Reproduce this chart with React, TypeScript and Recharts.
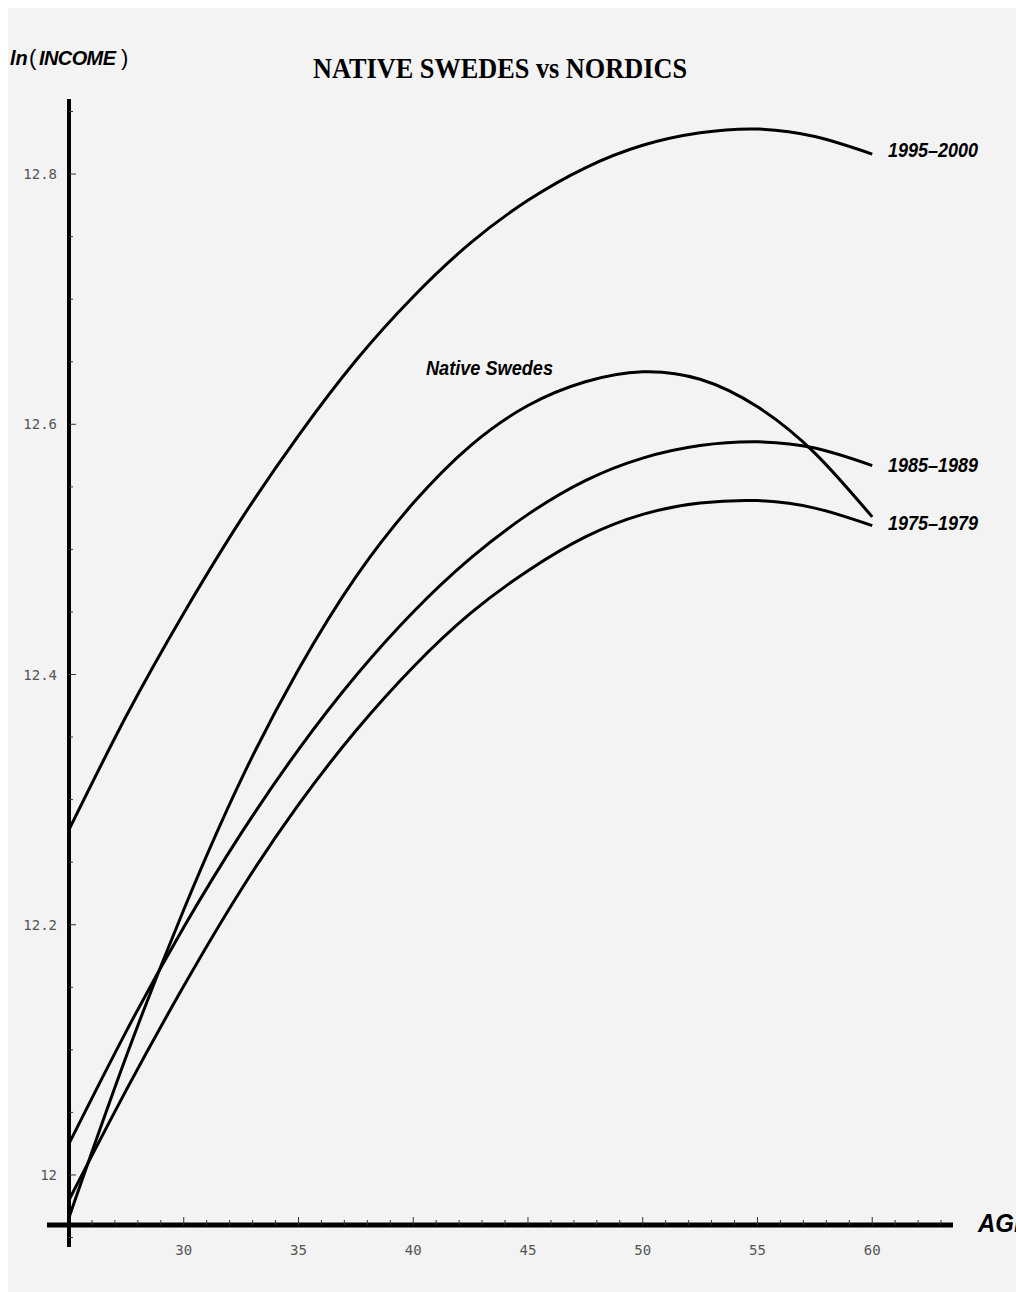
import React from 'react';
import { LineChart, Line, XAxis, YAxis, ReferenceLine } from 'recharts';

// age grid the curves were read at
const ages = [25, 27.5, 30, 32.5, 35, 37.5, 40, 42.5, 45, 47.5, 50, 52.5, 55, 57.5, 60];

// ln(income) per cohort
const nordics1995 = [12.276, 12.367, 12.449, 12.524, 12.591, 12.651, 12.702, 12.745, 12.779, 12.805, 12.823, 12.833, 12.836, 12.830, 12.816];
const nativeSwedes = [11.966, 12.095, 12.212, 12.316, 12.404, 12.478, 12.537, 12.583, 12.615, 12.634, 12.642, 12.636, 12.614, 12.577, 12.526];
const nordics1985 = [12.025, 12.115, 12.198, 12.273, 12.340, 12.399, 12.450, 12.493, 12.528, 12.555, 12.573, 12.583, 12.586, 12.581, 12.567];
const nordics1975 = [11.980, 12.068, 12.151, 12.228, 12.296, 12.355, 12.406, 12.449, 12.483, 12.510, 12.528, 12.537, 12.539, 12.533, 12.519];

const xTicks = [26, 27, 28, 29, 30, 31, 32, 33, 34, 35, 36, 37, 38, 39, 40, 41, 42, 43, 44, 45, 46, 47, 48, 49, 50, 51, 52, 53, 54, 55, 56, 57, 58, 59, 60, 61, 62, 63];
const xLabels = [30, 35, 40, 45, 50, 55, 60];
const yTicks = [11.95, 12, 12.05, 12.1, 12.15, 12.2, 12.25, 12.3, 12.35, 12.4, 12.45, 12.5, 12.55, 12.6, 12.65, 12.7, 12.75, 12.8, 12.85];
const yLabels = [12, 12.2, 12.4, 12.6, 12.8];
const yLabelText = ['12', '12.2', '12.4', '12.6', '12.8'];

// axis extents (Mathematica style crossing axes)
const xDomain = [25, 63.52];
const yDomain = [11.96, 12.86];
const xAxisStart = 24.04;
const yAxisBottom = 11.9425;

const data = ages.map((age, i) => ({
  age,
  n1995: nordics1995[i],
  native: nativeSwedes[i],
  n1985: nordics1985[i],
  n1975: nordics1975[i],
}));

const tickFont = { fontFamily: 'DejaVu Sans Mono', fontSize: 14, fill: '#555' };
const labelFont = { fontFamily: 'Liberation Sans', fontWeight: 700, fontStyle: 'italic' as const, fill: '#000' };

const XTick = (props: any) => {
  const { x, y, payload } = props;
  const major = xLabels.includes(payload.value);
  return (
    <g>
      <line x1={x} y1={y} x2={x} y2={y - (major ? 8 : 5)} stroke="#333" strokeWidth={1} />
      {major && (
        <text x={x} y={y + 30} textAnchor="middle" {...tickFont}>
          {payload.value}
        </text>
      )}
    </g>
  );
};

const YTick = (props: any) => {
  const { x, y, payload } = props;
  const idx = yLabels.findIndex((v) => Math.abs(v - payload.value) < 1e-6);
  const major = idx >= 0;
  return (
    <g>
      <line x1={x} y1={y} x2={x + (major ? 7 : 4)} y2={y} stroke="#333" strokeWidth={1} />
      {major && (
        <text x={x - 12} y={y + 5} textAnchor="end" {...tickFont}>
          {yLabelText[idx]}
        </text>
      )}
    </g>
  );
};

export default function App() {
  const W = 1008;
  const H = 1284;
  return (
    <div style={{ position: 'fixed', left: 0, top: 0, width: 1016, height: 1292, background: '#fff', overflow: 'hidden' }}>
      <div style={{ position: 'absolute', left: 8, top: 8, width: W, height: H, background: '#f3f3f3' }}>
        <LineChart width={W} height={H} data={data} margin={{ top: 91, right: 63, left: 0, bottom: 0 }}>
          <XAxis
            dataKey="age"
            type="number"
            domain={xDomain}
            ticks={xTicks}
            interval={0}
            axisLine={false}
            tickLine={false}
            tickSize={0}
            tickMargin={0}
            height={67}
            tick={<XTick />}
          />
          <YAxis
            type="number"
            domain={yDomain}
            ticks={yTicks}
            interval={0}
            axisLine={false}
            tickLine={false}
            tickSize={0}
            tickMargin={0}
            width={61}
            tick={<YTick />}
          />
          <ReferenceLine
            segment={[{ x: xAxisStart, y: yDomain[0] }, { x: xDomain[1], y: yDomain[0] }]}
            stroke="#000"
            strokeWidth={5}
            ifOverflow="visible"
          />
          <ReferenceLine
            segment={[{ x: xDomain[0], y: yAxisBottom }, { x: xDomain[0], y: yDomain[1] }]}
            stroke="#000"
            strokeWidth={4}
            ifOverflow="visible"
          />
          <Line type="natural" dataKey="n1995" stroke="#000" strokeWidth={3} dot={false} isAnimationActive={false} />
          <Line type="natural" dataKey="native" stroke="#000" strokeWidth={3} dot={false} isAnimationActive={false} />
          <Line type="natural" dataKey="n1985" stroke="#000" strokeWidth={3} dot={false} isAnimationActive={false} />
          <Line type="natural" dataKey="n1975" stroke="#000" strokeWidth={3} dot={false} isAnimationActive={false} />
        </LineChart>
        <svg width={W} height={H} style={{ position: 'absolute', left: 0, top: 0, pointerEvents: 'none' }}>
          <text y={57} fontSize={22} fontFamily="Liberation Sans" fill="#000">
            <tspan x={2} fontSize={20} fontWeight={700} fontStyle="italic">ln</tspan>
            <tspan x={21}>(</tspan>
            <tspan x={31} fontSize={20} letterSpacing={-0.6} fontWeight={700} fontStyle="italic">INCOME</tspan>
            <tspan x={113}>)</tspan>
          </text>
          <text x={305} y={70} fontSize={30} fontFamily="Liberation Serif" fontWeight={700} textLength={374} lengthAdjust="spacingAndGlyphs" fill="#000">
            NATIVE SWEDES vs NORDICS
          </text>
          <text x={880} y={149} fontSize={21} textLength={90} lengthAdjust="spacingAndGlyphs" {...labelFont}>1995–2000</text>
          <text x={880} y={464} fontSize={21} textLength={90} lengthAdjust="spacingAndGlyphs" {...labelFont}>1985–1989</text>
          <text x={880} y={522} fontSize={21} textLength={90} lengthAdjust="spacingAndGlyphs" {...labelFont}>1975–1979</text>
          <text x={418} y={367} fontSize={20} textLength={127} lengthAdjust="spacingAndGlyphs" {...labelFont}>Native Swedes</text>
          <text x={970} y={1224} fontSize={25} textLength={52} lengthAdjust="spacingAndGlyphs" {...labelFont}>AGE</text>
        </svg>
      </div>
    </div>
  );
}
